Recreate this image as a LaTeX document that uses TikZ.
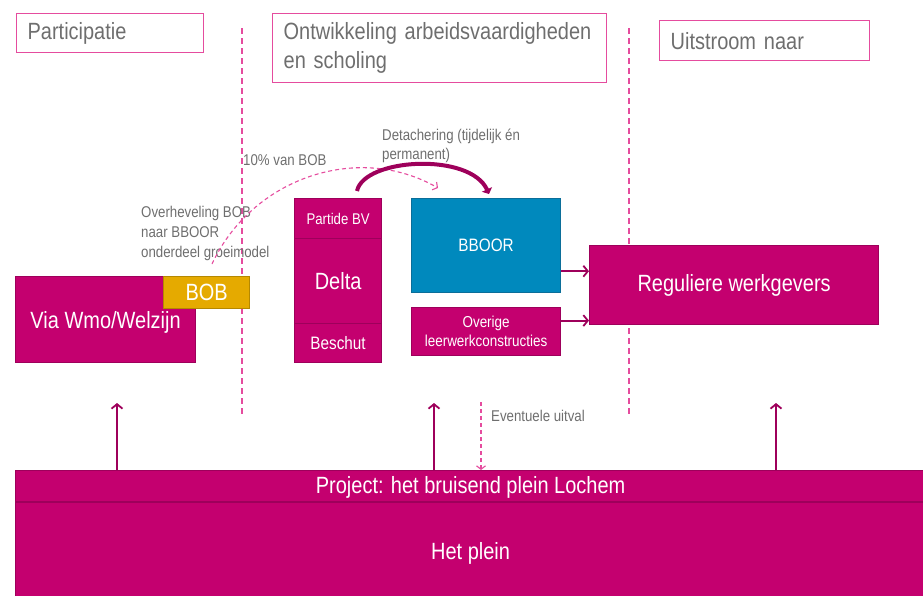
\documentclass[tikz,border=0pt]{standalone}
\usepackage{fontspec}
\setmainfont{Liberation Sans}[FakeStretch=0.85]
\usetikzlibrary{arrows.meta,calc}
\definecolor{mag}{HTML}{C4006F}
\definecolor{magborder}{HTML}{9E005B}
\definecolor{pinkline}{HTML}{E54C9E}
\definecolor{bluebox}{HTML}{0089BD}
\definecolor{blueborder}{HTML}{0B6E99}
\definecolor{goldbox}{HTML}{E5AA00}
\definecolor{goldborder}{HTML}{B58800}
\definecolor{graytxt}{HTML}{6E6E6E}
\tikzset{
  bigfont/.style={font=\fontsize{23.5}{29}\selectfont},
  smallfont/.style={font=\fontsize{15.6}{20}\selectfont},
  titlebox/.style={draw=pinkline, line width=1.3pt, text=graytxt, bigfont,
    inner xsep=11pt, inner ysep=0pt, align=left, anchor=north west},
  magbox/.style={draw=magborder, fill=mag, line width=1.2pt, text=white,
    align=center, inner sep=0pt, anchor=north west},
  bluebx/.style={draw=blueborder, fill=bluebox, line width=1.2pt, text=white,
    align=center, inner sep=0pt, anchor=north west},
  goldbx/.style={draw=goldborder, fill=goldbox, line width=1.2pt, text=white,
    align=center, inner sep=0pt, anchor=north west},
  intext/.style={text=white, bigfont, inner sep=0pt},
  lbl/.style={text=graytxt, smallfont, align=left, inner sep=0pt},
  arr/.style={draw=magborder, line width=1.8pt, -{Straight Barb[length=4.5pt,width=11pt,line width=1.8pt]}},
  sepline/.style={draw=pinkline, line width=1.4pt, dash pattern=on 6pt off 4pt},
  dasharr/.style={draw=pinkline, line width=1.1pt, dash pattern=on 4pt off 3pt,
    -{Straight Barb[length=3.5pt,width=9pt,line width=1.1pt]}},
  thickarr/.style={draw=magborder, line width=4pt, -{Triangle[length=5pt,width=11pt]}}
}
\begin{document}
\begin{tikzpicture}[x=1pt,y=-1pt]
\useasboundingbox (0,0) rectangle (923,595);

% column titles
\node[titlebox, text width=165pt, minimum height=39pt] (part) at (16,13) {Participatie};
\node[titlebox, text width=312pt, minimum height=69pt] (ontw) at (272,13) {Ontwikkeling arbeidsvaardigheden\\en scholing};
\node[titlebox, text width=188pt, minimum height=40pt] (uit) at (659,20) {Uitstroom naar};

% separators
\coordinate (s1a) at (242,28); \coordinate (s1b) at (242,415);
\coordinate (s2a) at (629,28); \coordinate (s2b) at (629,417);
\draw[sepline] (s1a) -- (s1b);
\draw[sepline] (s2a) -- (s2b);

% participatie column
\node[magbox, minimum width=180pt, minimum height=86pt,
  label={[intext, yshift=-3pt]center:Via Wmo/Welzijn}] (wmo) at (15,276) {};
\node[goldbx, bigfont, minimum width=86pt, minimum height=32pt] (bob) at (163,276) {BOB};

% ontwikkeling column
\node[magbox, font=\fontsize{15.5}{18}\selectfont, minimum width=87pt, minimum height=40pt] (partide) at (294,198) {Partide BV};
\node[magbox, bigfont, minimum width=87pt, minimum height=85pt] (delta) at (294,238) {Delta};
\node[magbox, font=\fontsize{18}{20}\selectfont, minimum width=87pt, minimum height=39pt] (beschut) at (294,323) {Beschut};
\node[bluebx, font=\fontsize{18}{20}\selectfont, minimum width=149pt, minimum height=94pt] (bboor) at (411,198) {BBOOR};
\node[magbox, font=\fontsize{15.8}{19}\selectfont, minimum width=149pt, minimum height=48pt] (overige) at (411,307) {Overige\\leerwerkconstructies};

% uitstroom column
\node[magbox, bigfont, minimum width=289pt, minimum height=79pt] (regul) at (589,245) {Reguliere werkgevers};

% bottom bars
\node[magbox, minimum width=912pt, minimum height=32pt,
  label={[intext, xshift=-1pt, yshift=-1pt]center:Project: het bruisend plein Lochem}] (project) at (15,470) {};
\node[magbox, minimum width=912pt, minimum height=96pt,
  label={[intext, xshift=-1pt, yshift=-3pt]center:Het plein}] (plein) at (15,502) {};
\draw[draw=magborder, line width=2pt] (plein.north west) -- (plein.north east);

% labels
\node[lbl, anchor=north west] (overh) at (141,206) {Overheveling BOB\\naar BBOOR\\onderdeel groeimodel};
\node[lbl, anchor=west] (tien) at (243,160) {10\% van BOB};
\node[lbl, anchor=west, font=\fontsize{15.6}{19}\selectfont] (detach) at (382,146) {Detachering (tijdelijk én\\permanent)};
\node[lbl, anchor=west] (uitval) at (491,416) {Eventuele uitval};

% connectors to Reguliere werkgevers
\draw[arr] ([yshift=22pt]bboor.south east) -- ([yshift=22pt]bboor.south east -| regul.west);
\draw[arr] ([yshift=11pt]overige.east) -- ([yshift=11pt]overige.east -| regul.west);

% up arrows from project
\coordinate (u1) at (117,403);
\coordinate (u2) at (434,403);
\coordinate (u3) at (776,403);
\draw[arr] (u1 |- project.north) -- (u1);
\draw[arr] (u2 |- project.north) -- (u2);
\draw[arr] (u3 |- project.north) -- (u3);

% eventuele uitval
\coordinate (d1) at (481,402);
\draw[dasharr] (d1) -- (d1 |- project.north);

% 10% van BOB dashed curve
\coordinate (c1) at (212,264);
\coordinate (c2) at (438,188);
\draw[dasharr] (c1) .. controls (252,178) and (358,142) .. (c2);

% detachering thick arc
\coordinate (t1) at (357,191);
\coordinate (t2) at (489,194);
\draw[thickarr] (t1) .. controls (364,158) and (470,152) .. (t2);
\end{tikzpicture}
\end{document}
